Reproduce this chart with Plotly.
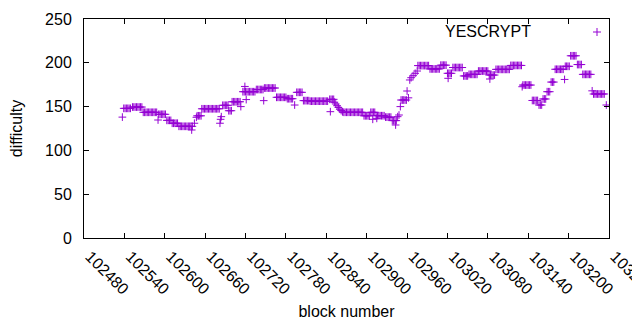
import plotly.graph_objects as go

# ---- data (block number, difficulty) ----
blocks = [
    102537,
    102539, 102541, 102543, 102545, 102547, 102549,
    102552, 102554, 102556, 102558, 102560, 102562, 102564, 102566,
    102568, 102570, 102572, 102574, 102576, 102578, 102580, 102582, 102584, 102586, 102588,
    102590,
    102591, 102593, 102595, 102597, 102599, 102601,
    102603, 102605, 102607, 102609,
    102611, 102613, 102615, 102617, 102619,
    102621, 102623, 102625, 102627, 102629, 102631, 102633, 102635, 102637, 102639, 102641,
    102640, 102644, 102647,
    102648, 102650, 102652, 102654,
    102655, 102657, 102659, 102661, 102663, 102665, 102667, 102669, 102671, 102673, 102675, 102677, 102679, 102681,
    102682, 102683, 102684,
    102686, 102688, 102690, 102692, 102694,
    102695, 102697, 102699,
    102700, 102702, 102704, 102706, 102708, 102710, 102712,
    102713,
    102716, 102718, 102720, 102722, 102724, 102726, 102728, 102730, 102732, 102734,
    102719, 102721,
    102736, 102738, 102740, 102742, 102744, 102746, 102747,
    102748, 102750, 102752, 102754, 102756, 102758, 102760, 102762, 102764,
    102766, 102768, 102770, 102772, 102774, 102776, 102778, 102780,
    102782, 102784, 102786, 102788, 102790,
    102793,
    102796, 102798, 102800, 102802, 102804,
    102806, 102808, 102810, 102812, 102814,
    102816, 102818, 102820, 102822, 102824, 102826, 102828, 102830, 102832, 102834, 102836, 102838, 102840, 102842,
    102845, 102847, 102849, 102851, 102846,
    102852, 102854, 102856, 102858, 102860, 102862, 102864,
    102866, 102868, 102870, 102872, 102874, 102876, 102878, 102880, 102882, 102884, 102886, 102888, 102890, 102892, 102894,
    102896, 102898, 102900, 102902, 102904,
    102906, 102908, 102910, 102912, 102909,
    102914, 102916, 102918, 102920, 102922, 102924, 102926, 102915,
    102928, 102930, 102932, 102934, 102936,
    102938, 102940, 102942, 102944, 102943,
    102946, 102948, 102950,
    102951, 102953, 102955, 102957, 102959,
    102960, 102962, 102964, 102966, 102969, 102972, 102975,
    102976, 102978, 102980, 102982, 102984, 102986, 102988, 102990, 102992,
    102994, 102996, 102998, 103000, 103002, 103004, 103006, 103008,
    103010, 103012, 103014, 103016, 103018,
    103020, 103022, 103024, 103026, 103021,
    103028, 103030, 103032, 103034, 103036, 103038, 103040, 103042,
    103044, 103046, 103048, 103050,
    103052, 103054, 103056, 103058, 103060, 103062, 103064,
    103066, 103068, 103070, 103072, 103074, 103076, 103078, 103080,
    103083,
    103082, 103084, 103086, 103088, 103090,
    103092, 103094, 103096, 103098, 103100, 103102, 103104, 103106, 103108, 103110, 103112,
    103114, 103116, 103118, 103120, 103122, 103124, 103126, 103128, 103130, 103131,
    103132, 103134, 103136, 103138, 103140, 103142, 103144,
    103146, 103148, 103150, 103152, 103154,
    103156, 103158, 103160,
    103162, 103164, 103166,
    103168, 103170, 103172,
    103174, 103176, 103178,
    103180, 103182, 103184, 103186, 103188, 103190, 103192, 103194,
    103195, 103197, 103199, 103201,
    103203, 103205, 103207, 103209, 103211,
    103213, 103215, 103217, 103219,
    103221, 103223, 103225, 103227, 103229, 103231, 103233, 103235,
    103237, 103239, 103241, 103243, 103245, 103247, 103249, 103251, 103253,
    103256,
]

difficulty = [
    138,
    148, 148, 148, 148, 148, 148,
    149.5, 149.5, 149.5, 149.5, 149.5, 149.5, 149.5, 149.5,
    143.5, 143.5, 143.5, 143.5, 143.5, 143.5, 143.5, 143.5, 143.5, 143.5, 143.5,
    134.7,
    141.2, 141.2, 141.2, 141.2, 141.2, 141.2,
    134.3, 134.3, 134.3, 134.3,
    131, 131, 131, 131, 131,
    127.5, 127.5, 127.5, 127.5, 127.5, 127.5, 127.5, 127.5, 127.5, 127.5, 127.5,
    123.3, 131, 137.8,
    139.5, 139.5, 139.5, 139.5,
    147.5, 147.5, 147.5, 147.5, 147.5, 147.5, 147.5, 147.5, 147.5, 147.5, 147.5, 147.5, 147.5, 147.5,
    131, 135.5, 138.5,
    151.5, 151.5, 151.5, 151.5, 151.5,
    145.3, 145.3, 145.3,
    155.5, 155.5, 155.5, 155.5, 155.5, 155.5, 155.5,
    150,
    167, 167, 167, 167, 167, 167, 167, 167, 167, 167,
    173, 158,
    169.5, 169.5, 169.5, 169.5, 169.5, 169.5, 156.8,
    171.2, 171.2, 171.2, 171.2, 171.2, 171.2, 171.2, 171.2, 171.2,
    160.6, 160.6, 160.6, 160.6, 160.6, 160.6, 160.6, 160.6,
    159, 159, 159, 159, 159,
    151.8,
    166.3, 166.3, 166.3, 166.3, 166.3,
    156.8, 156.8, 156.8, 156.8, 156.8,
    156.2, 156.2, 156.2, 156.2, 156.2, 156.2, 156.2, 156.2, 156.2, 156.2, 156.2, 156.2, 156.2, 156.2,
    158.3, 158.3, 158.3, 158.3, 144.2,
    155, 153, 151, 149, 147, 145.5, 144,
    143.5, 143.5, 143.5, 143.5, 143.5, 143.5, 143.5, 143.5, 143.5, 143.5, 143.5, 143.5, 143.5, 143.5, 143.5,
    139.5, 139.5, 139.5, 139.5, 139.5,
    143.5, 143.5, 143.5, 143.5, 135.5,
    139.6, 139.6, 139.6, 139.6, 139.6, 139.6, 139.6, 136.6,
    138, 138, 138, 138, 138,
    134, 134, 134, 134, 129,
    138.5, 140.4, 150,
    157.5, 157.5, 157.5, 157.5, 157.5,
    167.8, 160, 180.4, 183, 185.3, 188, 190.6,
    196.8, 196.8, 196.8, 196.8, 196.8, 196.8, 196.8, 196.8, 196.8,
    193, 193, 193, 193, 193, 193, 193, 193,
    197.3, 197.3, 197.3, 197.3, 197.3,
    188, 188, 188, 188, 182.3,
    194.6, 194.6, 194.6, 194.6, 194.6, 194.6, 194.6, 194.6,
    185, 185, 185, 185,
    186.8, 186.8, 186.8, 186.8, 186.8, 186.8, 186.8,
    190.6, 190.6, 190.6, 190.6, 190.6, 190.6, 190.6, 190.6,
    181.5,
    186, 186, 186, 186, 186,
    192.5, 192.5, 192.5, 192.5, 192.5, 192.5, 192.5, 192.5, 192.5, 192.5, 192.5,
    197, 197, 197, 197, 197, 197, 197, 197, 197, 172.7,
    174.6, 174.6, 174.6, 174.6, 174.6, 174.6, 174.6,
    157, 157, 157, 157, 157,
    151.8, 151.8, 151.8,
    158.7, 158.7, 158.7,
    167, 167, 167,
    178, 178, 178,
    192.6, 192.6, 192.6, 192.6, 192.6, 192.6, 192.6, 181,
    196, 196, 196, 196,
    208, 208, 208, 208, 208,
    198, 198, 198, 198,
    186.8, 186.8, 186.8, 186.8, 186.8, 186.8, 186.8, 168,
    164.4, 164.4, 164.4, 164.4, 164.4, 164.4, 164.4, 164.4, 164.4,
    151.8,
]

series_name = "YESCRYPT"
x_ticks = list(range(102480, 103261, 60))
y_ticks = [0, 50, 100, 150, 200, 250]

COLOR = "#9400d3"
FONT = "Liberation Sans"

fig = go.Figure()
fig.add_trace(go.Scatter(
    x=blocks, y=difficulty, mode="markers", name=series_name,
    marker=dict(symbol="cross-thin", size=5.5, color=COLOR,
                line=dict(width=1, color=COLOR)),
    showlegend=False,
))

# page has an 8px body margin; size the figure so the plot box lands at
# x 84..609, y 19..238 of the 640x330 window
OFF = 8
W, H = 640 - OFF, 330 - OFF
L, R, T, B = 84 - OFF, 31, 19 - OFF, 92
pw, ph = W - L - R, H - T - B

# key: text on the left, point sample on the right (gnuplot style)
kx = (597 - 84) / pw
ky = (238 - 32) / ph
dx, dy = 4 / pw, 4 / ph
fig.add_shape(type="line", xref="paper", yref="paper", x0=kx - dx, x1=kx + dx,
              y0=ky, y1=ky, line=dict(color=COLOR, width=1))
fig.add_shape(type="line", xref="paper", yref="paper", x0=kx, x1=kx,
              y0=ky - dy, y1=ky + dy, line=dict(color=COLOR, width=1))
fig.add_annotation(text=series_name, xref="paper", yref="paper",
                   x=(533 - 84) / pw, y=(238 - 31) / ph, xanchor="right",
                   yanchor="middle", showarrow=False,
                   font=dict(family=FONT, size=16, color="#000000"))

axis_common = dict(showline=True, linecolor="#000000", linewidth=1, mirror="ticks",
                   ticks="inside", ticklen=5, tickcolor="#000000", showgrid=False,
                   zeroline=False, automargin=False,
                   tickfont=dict(family=FONT, size=16, color="#000000"))

fig.update_xaxes(range=[102480, 103260], tickvals=x_ticks,
                 ticktext=[str(t) for t in x_ticks], tickangle=45,
                 ticklabeloverflow="allow", ticklabelshift=6,
                 title=dict(text="block number", font=dict(family=FONT, size=16, color="#000000"),
                            standoff=8),
                 ticklabelstandoff=2, **axis_common)
fig.update_yaxes(range=[0, 250], tickvals=y_ticks,
                 title=dict(text="difficulty", font=dict(family=FONT, size=16, color="#000000"),
                            standoff=19),
                 ticklabelstandoff=8, **axis_common)

fig.update_layout(
    width=W, height=H,
    margin=dict(l=L, r=R, t=T, b=B, autoexpand=False),
    paper_bgcolor="#ffffff", plot_bgcolor="#ffffff",
    font=dict(family=FONT, size=16, color="#000000"),
)

fig.write_html("out.html")
